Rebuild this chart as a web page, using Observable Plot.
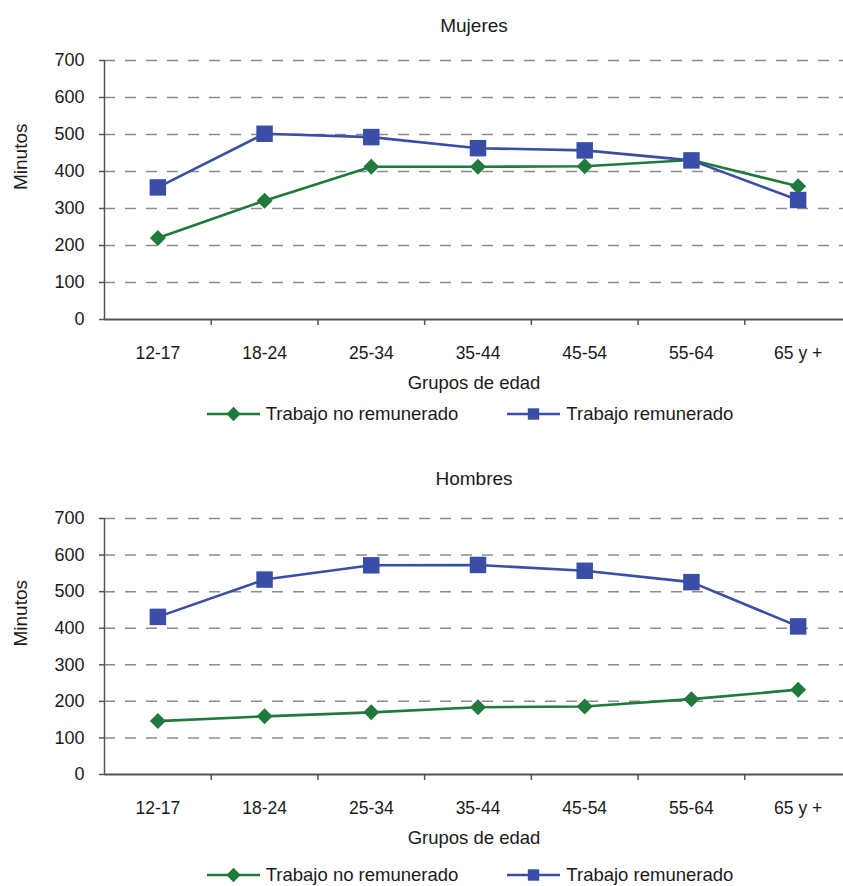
<!DOCTYPE html>
<html>
<head>
<meta charset="utf-8">
<script src="https://cdn.jsdelivr.net/npm/d3@7"></script>
<script src="https://cdn.jsdelivr.net/npm/@observablehq/plot@0.6"></script>
<style>
  body { margin: 0; background: #fff; width: 843px; height: 886px; overflow: hidden;
         font-family: "Liberation Sans", Arial, sans-serif; color: #1a1a1a; }
  svg { display: block; }
  .legend { display: flex; justify-content: center; align-items: center; font-size: 18.5px;
            line-height: 26px; padding-left: 97px; }
  .legend .item { display: flex; align-items: center; }
  .legend .item + .item { margin-left: 49px; }
  .legend svg { margin-right: 6px; }
</style>
</head>
<body>
<div id="chart"></div>
<script>
// ---- data ----
const grupos = ["12-17", "18-24", "25-34", "35-44", "45-54", "55-64", "65 y +"];
const series = ["Trabajo no remunerado", "Trabajo remunerado"];
const mujeresNoRemunerado = [220, 321, 413, 413, 414, 431, 360];
const mujeresRemunerado   = [357, 502, 493, 463, 457, 430, 323];
const hombresNoRemunerado = [146, 159, 170, 184, 186, 206, 232];
const hombresRemunerado   = [431, 533, 572, 573, 557, 526, 405];
const yTicks = [0, 100, 200, 300, 400, 500, 600, 700];

// ---- style ----
const colors = { "Trabajo no remunerado": "#1f7a3c", "Trabajo remunerado": "#3a4ea8" };
const symbols = { "Trabajo no remunerado": "diamond2", "Trabajo remunerado": "square" };
const radius = { "Trabajo no remunerado": 7.2, "Trabajo remunerado": 9.3 };
const axisColor = "#555";

function rows(noRem, rem) {
  const out = [];
  [noRem, rem].forEach((vals, s) => vals.forEach((v, i) =>
    out.push({ serie: series[s], grupo: grupos[i], pos: i + 0.5, valor: v })));
  return out;
}

function chart(title, noRem, rem, frameH, titleDy) {
  const data = rows(noRem, rem);
  const marginTop = 60, marginBottom = 76;
  const marks = [
    Plot.ruleY(yTicks.filter(d => d > 0), { stroke: "#8c8c8c", strokeWidth: 1.5, strokeDasharray: "11,10" }),
    Plot.axisY({ ticks: yTicks, tickSize: 5, tickPadding: 15, fontSize: 18, label: null, stroke: axisColor, strokeWidth: 1.5 }),
    Plot.axisX({ ticks: d3.range(1, grupos.length), tickSize: 6, tickFormat: () => "", label: null, stroke: axisColor, strokeWidth: 1.5 }),
    Plot.axisX({ ticks: grupos.map((d, i) => i + 0.5), tickFormat: d => grupos[Math.round(d - 0.5)], tickSize: 0, tickPadding: 27, fontSize: 17.5, label: null }),
    Plot.ruleX([0], { stroke: axisColor, strokeWidth: 1.5 }),
    Plot.ruleY([0], { stroke: axisColor, strokeWidth: 2 }),
  ];
  for (const s of series) {
    const d = data.filter(r => r.serie === s);
    marks.push(Plot.line(d, { x: "pos", y: "valor", stroke: colors[s], strokeWidth: 2.6 }));
    marks.push(Plot.dot(d, { x: "pos", y: "valor", symbol: symbols[s], r: radius[s], fill: colors[s], stroke: "none" }));
  }
  marks.push(Plot.text([title], { frameAnchor: "top", lineAnchor: "middle", dy: titleDy, fontSize: 19, fill: "#1a1a1a" }));
  marks.push(Plot.text(["Grupos de edad"], { frameAnchor: "bottom", lineAnchor: "middle", dy: 64, fontSize: 18.5, fill: "#1a1a1a" }));
  marks.push(Plot.text(["Minutos"], { frameAnchor: "left", lineAnchor: "middle", dx: -84, rotate: -90, fontSize: 19, fill: "#1a1a1a" }));
  return Plot.plot({
    width: 843,
    height: marginTop + frameH + marginBottom,
    marginTop, marginBottom, marginLeft: 104, marginRight: 0,
    style: { fontFamily: "Liberation Sans, Arial, sans-serif", color: "#1a1a1a", background: "white", overflow: "visible" },
    x: { type: "linear", domain: [0, grupos.length], range: [104, 851] },
    y: { domain: [0, 700] },
    marks
  });
}

function legend(padTop, padBottom) {
  const div = document.createElement("div");
  div.className = "legend";
  div.style.paddingTop = padTop + "px";
  div.style.paddingBottom = padBottom + "px";
  for (const s of series) {
    const item = document.createElement("div");
    item.className = "item";
    const sw = d3.create("svg").attr("width", 53).attr("height", 20);
    sw.append("line").attr("x1", 0).attr("x2", 53).attr("y1", 10).attr("y2", 10)
      .attr("stroke", colors[s]).attr("stroke-width", 2.6);
    sw.append("path").attr("transform", "translate(26.5,10)")
      .attr("d", d3.symbol(s === series[0] ? d3.symbolDiamond2 : d3.symbolSquare, 130)())
      .attr("fill", colors[s]);
    item.appendChild(sw.node());
    const t = document.createElement("span");
    t.textContent = s;
    item.appendChild(t);
    div.appendChild(item);
  }
  return div;
}

const root = document.getElementById("chart");
root.appendChild(chart("Mujeres", mujeresNoRemunerado, mujeresRemunerado, 259, -35));
root.appendChild(legend(6, 31));
root.appendChild(chart("Hombres", hombresNoRemunerado, hombresRemunerado, 256, -40));
root.appendChild(legend(12, 0));
</script>
</body>
</html>
